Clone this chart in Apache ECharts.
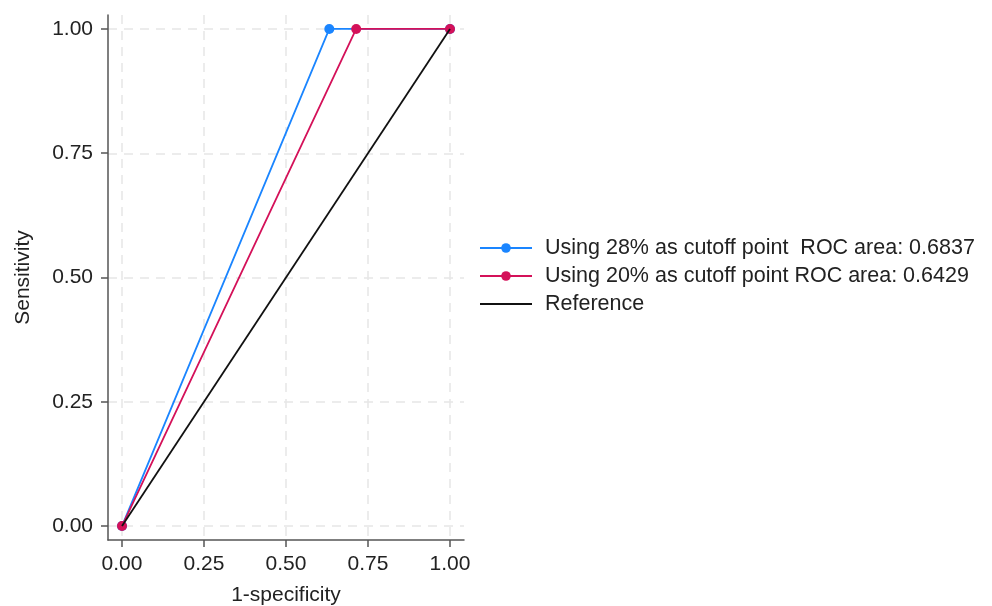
<!DOCTYPE html>
<html><head><meta charset="utf-8">
<script src="https://cdn.jsdelivr.net/npm/echarts@6/dist/echarts.min.js"></script>
<style>html,body{margin:0;padding:0;background:#fff}#c{width:992px;height:606px}</style>
</head><body><div id="c"></div>
<script>
const seriesNames = ['Using 28% as cutoff point  ROC area: 0.6837', 'Using 20% as cutoff point ROC area: 0.6429', 'Reference'];
const fpr28 = [0, 0.632, 1];
const tpr28 = [0, 1, 1];
const fpr20 = [0, 0.714, 1];
const tpr20 = [0, 1, 1];
const refX = [0, 1];
const refY = [0, 1];
const tickVals = [0, 0.25, 0.5, 0.75, 1];
const xName = '1-specificity';
const yName = 'Sensitivity';

const zip = (a, b) => a.map((v, i) => [v, b[i]]);
const font = 'Liberation Sans, Arial, Helvetica, sans-serif';
const FS = 21;
const gridLine = { show: true, lineStyle: { color: '#e6e6e6', type: [9, 7], width: 1.5 } };
const hidden = { axisLine: { show: false }, axisTick: { show: false }, axisLabel: { show: false } };
const axisCommon = {
  type: 'value',
  nameLocation: 'middle',
  nameTextStyle: { fontFamily: font, fontSize: FS, color: '#222' },
  axisLine: { show: true, onZero: false, lineStyle: { color: '#555', width: 1.5 } },
  axisTick: { show: true, length: 7, customValues: tickVals, lineStyle: { color: '#555', width: 1.5 } },
  splitLine: { show: false }
};
const labelCommon = { customValues: tickVals, fontFamily: font, fontSize: FS, color: '#222', formatter: v => v.toFixed(2) };
const chart = echarts.init(document.getElementById('c'), null, { renderer: 'canvas' });
chart.setOption({
  animation: false,
  backgroundColor: '#fff',
  grid: [
    { left: 108, right: 528, top: 15, bottom: 66, outerBoundsMode: 'none', containLabel: false },
    { left: 122, right: 542, top: 15, bottom: 66, outerBoundsMode: 'none', containLabel: false },
    { left: 108, right: 528, top: 29, bottom: 80, outerBoundsMode: 'none', containLabel: false }
  ],
  xAxis: [
    Object.assign({}, axisCommon, { gridIndex: 0, min: -0.0427, max: 1.0427, name: xName, nameGap: 45,
      axisLabel: Object.assign({}, labelCommon, { margin: 14 }) }),
    Object.assign({ type: 'value', gridIndex: 1, min: 0, max: 1, interval: 0.25, splitLine: gridLine }, hidden),
    Object.assign({ type: 'value', gridIndex: 2, min: 0, max: 1, splitLine: { show: false } }, hidden)
  ],
  yAxis: [
    Object.assign({}, axisCommon, { gridIndex: 0, min: -0.028, max: 1.028, name: yName, nameGap: 74,
      axisLabel: Object.assign({}, labelCommon, { margin: 15 }) }),
    Object.assign({ type: 'value', gridIndex: 1, min: 0, max: 1, splitLine: { show: false } }, hidden),
    Object.assign({ type: 'value', gridIndex: 2, min: 0, max: 1, interval: 0.25, splitLine: gridLine }, hidden)
  ],
  legend: {
    orient: 'vertical', left: 474, top: 232, itemWidth: 52, itemHeight: 12, itemGap: 6,
    textStyle: { fontFamily: font, fontSize: 21.5, color: '#222', padding: [0, 0, 0, 8] },
    data: [
      { name: seriesNames[0] },
      { name: seriesNames[1] },
      { name: seriesNames[2], itemStyle: { opacity: 0 } }
    ]
  },
  series: [
    { name: seriesNames[0], type: 'line', xAxisIndex: 0, yAxisIndex: 0, data: zip(fpr28, tpr28), color: '#1a85ff',
      symbol: 'circle', symbolSize: 10, lineStyle: { width: 1.8 }, z: 3 },
    { name: seriesNames[1], type: 'line', xAxisIndex: 0, yAxisIndex: 0, data: zip(fpr20, tpr20), color: '#d41159',
      symbol: 'circle', symbolSize: 10, lineStyle: { width: 1.8 }, z: 4 },
    { name: seriesNames[2], type: 'line', xAxisIndex: 0, yAxisIndex: 0, data: zip(refX, refY), color: '#111',
      symbol: 'none', lineStyle: { width: 1.8 }, z: 5 }
  ]
});
</script></body></html>
